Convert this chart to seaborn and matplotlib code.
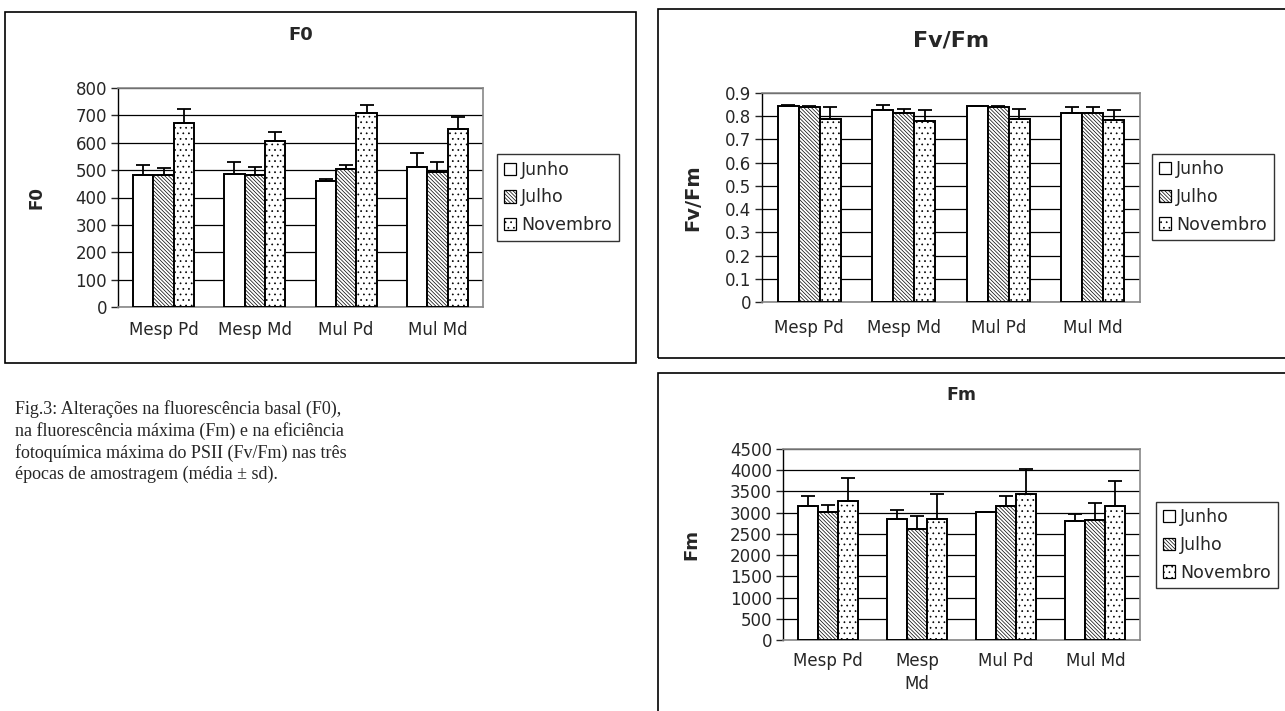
import seaborn as sns
import pandas as pd
import matplotlib.pyplot as plt
from matplotlib.patches import Rectangle

# --- data (mean and +sd) ---
groups = ['Mesp Pd', 'Mesp Md', 'Mul Pd', 'Mul Md']
months = ['Junho', 'Julho', 'Novembro']

f0_mean = {'Junho': [482, 486, 462, 513],
           'Julho': [482, 482, 503, 492],
           'Novembro': [672, 605, 707, 652]}
f0_sd = {'Junho': [37, 43, 5, 51],
         'Julho': [25, 31, 14, 37],
         'Novembro': [52, 36, 32, 42]}

fvfm_mean = {'Junho': [0.845, 0.827, 0.844, 0.812],
             'Julho': [0.838, 0.814, 0.838, 0.812],
             'Novembro': [0.789, 0.778, 0.789, 0.785]}
fvfm_sd = {'Junho': [0.005, 0.023, 0.001, 0.026],
           'Julho': [0.005, 0.017, 0.007, 0.027],
           'Novembro': [0.049, 0.049, 0.043, 0.042]}

fm_mean = {'Junho': [3147, 2856, 3005, 2793],
           'Julho': [3013, 2620, 3147, 2816],
           'Novembro': [3281, 2856, 3446, 3147]}
fm_sd = {'Junho': [236, 197, 16, 165],
         'Julho': [173, 307, 252, 409],
         'Novembro': [535, 590, 582, 606]}

caption = ("Fig.3: Alterações na fluorescência basal (F0),\n"
           "na fluorescência máxima (Fm) e na eficiência\n"
           "fotoquímica máxima do PSII (Fv/Fm) nas três\n"
           "épocas de amostragem (média ± sd).")

sns.set_style('white')
plt.rcParams['font.family'] = ['DejaVu Sans']
plt.rcParams['hatch.linewidth'] = 0.5

hatches = {'Junho': '', 'Julho': '\\' * 9, 'Novembro': '...'}

W, H = 1285, 711
fig = plt.figure(figsize=(W / 100, H / 100), dpi=100)


def fx(px):
    return px / W


def fy(py):
    return 1 - py / H


def make_df(mean, sd):
    rows = []
    for m in months:
        for g, v, s in zip(groups, mean[m], sd[m]):
            rows.append({'grupo': g, 'mes': m, 'valor': v, 'sd': s})
    return pd.DataFrame(rows)


def panel(box, mean, sd, ymax, ystep, title, ylabel, title_size, ylab_size,
          title_px, ylab_px, xpad, leg_box, xlabels=None, yfmt=None):
    left, top, right, bottom = box
    ax = fig.add_axes([fx(left), fy(bottom), (right - left) / W,
                       (bottom - top) / H])
    df = make_df(mean, sd)
    sns.barplot(data=df, x='grupo', y='valor', hue='mes', order=groups,
                hue_order=months, palette=['white'] * 3, edgecolor='black',
                linewidth=1.4, width=0.67, gap=0, errorbar=None, ax=ax,
                zorder=3)
    # hatches + upper error bars taken from the bar patches
    for cont, m in zip(ax.containers, months):
        xs, tops = [], []
        for bar in cont:
            bar.set_hatch(hatches[m])
            xs.append(bar.get_x() + bar.get_width() / 2)
            tops.append(bar.get_height())
        s = df[df.mes == m].set_index('grupo').loc[groups, 'sd'].values
        ax.errorbar(xs, tops, yerr=[[0] * len(s), s], fmt='none',
                    ecolor='black', elinewidth=1.3, capsize=5, capthick=1.3,
                    zorder=4)
    ax.set_xlim(-0.5, 3.5)
    ax.set_ylim(0, ymax)
    ticks = [i * ystep for i in range(int(round(ymax / ystep)) + 1)]
    ax.set_yticks(ticks)
    if yfmt:
        ax.set_yticklabels([yfmt(t) for t in ticks])
    ax.yaxis.grid(True, color='black', lw=0.9, zorder=0)
    ax.set_axisbelow(True)
    ax.set_xticks(range(4))
    ax.set_xticklabels(xlabels or groups, fontsize=12, linespacing=1.3)
    ax.set_xticks([-0.5, 0.5, 1.5, 2.5, 3.5], minor=True)
    ax.tick_params(axis='x', which='major', length=0, pad=xpad)
    ax.tick_params(axis='x', which='minor', length=5, width=1, direction='out')
    ax.tick_params(axis='y', length=5, width=1, direction='out', labelsize=12,
                   left=True, pad=3)
    for side in ['top', 'right', 'bottom']:
        ax.spines[side].set_color('#888888')
        ax.spines[side].set_linewidth(1.2)
    ax.spines['left'].set_color('black')
    ax.spines['left'].set_linewidth(1)
    ax.set_xlabel('')
    ax.set_ylabel(ylabel, fontsize=ylab_size, fontweight='bold')
    ax.yaxis.set_label_coords((ylab_px - left) / (right - left), 0.5)
    ax.set_title(title, fontsize=title_size, fontweight='bold',
                 y=1 + (top - title_px) / (bottom - top), pad=0)
    ax.get_legend().remove()
    handles = [Rectangle((0, 0), 1, 1, facecolor='white', edgecolor='black',
                         hatch=hatches[m], lw=0.9) for m in months]
    lx, ly, ly2 = leg_box
    fig.legend(handles, months, loc='center left',
               bbox_to_anchor=(fx(lx), fy((ly + ly2) / 2)),
               frameon=True, fancybox=False, edgecolor='black',
               fontsize=12.5, handlelength=0.7, handleheight=0.7,
               handletextpad=0.3, labelspacing=0.55, borderpad=0.4,
               borderaxespad=0)
    return ax


# outer frames
for x0, y0, x1, y1 in [(5, 12, 636, 363), (658, 9, 1300, 358),
                       (658, 373, 1300, 730)]:
    fig.patches.append(Rectangle((fx(x0), fy(y1)), (x1 - x0) / W,
                                 (y1 - y0) / H, transform=fig.transFigure,
                                 fill=False, edgecolor='black', lw=1.2))

panel((118, 88, 483, 307), f0_mean, f0_sd, 800, 100, 'F0', 'F0',
      13, 12, 40, 45, 10, (497, 155, 240))

panel((762, 93, 1140, 302), fvfm_mean, fvfm_sd, 0.9, 0.1, 'Fv/Fm', 'Fv/Fm',
      16, 14, 47, 702, 12, (1152, 155, 239),
      yfmt=lambda t: '0' if t == 0 else f'{t:.1f}')

panel((783, 449, 1140, 640), fm_mean, fm_sd, 4500, 500, 'Fm', 'Fm',
      12.5, 13, 400, 700, 9, (1156, 503, 587),
      xlabels=['Mesp Pd', 'Mesp\nMd', 'Mul Pd', 'Mul Md'])

fig.text(fx(15), fy(400), caption, family=['Liberation Serif', 'DejaVu Serif'],
         fontsize=13, va='top', ha='left', linespacing=1.3)

fig.savefig('out.png', dpi=100)
